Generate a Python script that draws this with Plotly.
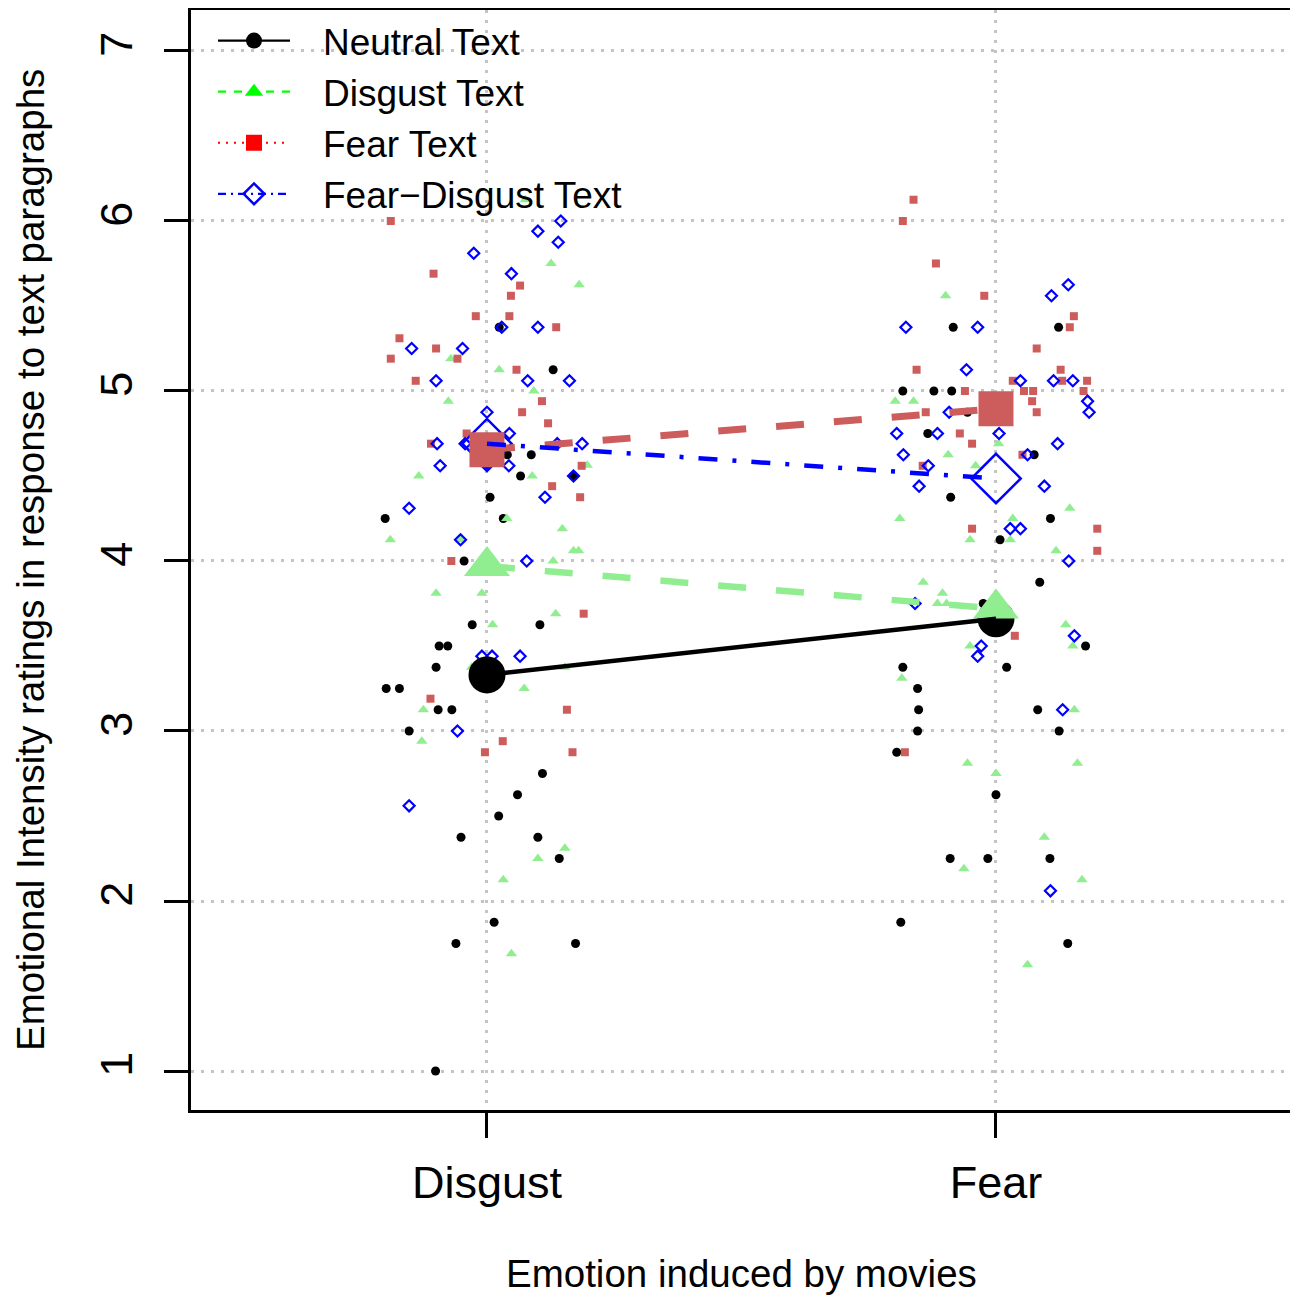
import plotly.graph_objects as go

FONT = "Liberation Sans, Arial, Helvetica, sans-serif"

# categories on the x axis (numeric positions 1 and 2)
conditions = ["Disgust", "Fear"]
cond_pos = [1, 2]

# ---- individual (jittered) ratings: jitter offsets and values ----
neutral_dis_jit = [0.024, 0.130, 0.040, 0.087, 0.066, 0.170, 0.006, -0.200, 0.032, -0.045,
                   -0.029, 0.104, -0.094, -0.077, -0.100, -0.198, -0.172, -0.096, -0.069, -0.153,
                   0.109, 0.060, 0.023, -0.051, 0.100, 0.142, 0.014, -0.061, 0.174, -0.101]
neutral_dis_y = [5.375, 5.125, 4.625, 4.625, 4.5, 4.5, 4.375, 4.25, 4.25, 4.0,
                 3.625, 3.625, 3.5, 3.5, 3.375, 3.25, 3.25, 3.125, 3.125, 3.0,
                 2.75, 2.625, 2.5, 2.375, 2.375, 2.25, 1.875, 1.75, 1.75, 1.0]
neutral_fear_jit = [-0.084, 0.123, -0.183, -0.122, -0.087, -0.056, -0.134, 0.075, -0.089, 0.107,
                    0.008, 0.086, -0.025, 0.176, -0.183, 0.021, -0.154, -0.152, 0.082, -0.154,
                    0.124, -0.195, 0.000, -0.090, -0.016, 0.106, -0.187, 0.141]
neutral_fear_y = [5.375, 5.375, 5.0, 5.0, 5.0, 4.875, 4.75, 4.625, 4.375, 4.25,
                  4.125, 3.875, 3.75, 3.5, 3.375, 3.375, 3.25, 3.125, 3.125, 3.0,
                  3.0, 2.875, 2.625, 2.25, 2.25, 2.25, 1.875, 1.75]

disgust_dis_jit = [0.075, 0.126, 0.181, -0.071, 0.024, 0.092, -0.076, -0.134, 0.089, 0.197,
                   0.039, -0.190, 0.148, -0.052, 0.170, 0.180, 0.130, -0.100, -0.010, 0.135,
                   0.011, -0.030, 0.153, 0.073, -0.125, -0.128, 0.153, 0.100, 0.032, 0.048]
disgust_dis_y = [6.125, 5.75, 5.625, 5.19, 5.125, 5.0, 4.94, 4.5, 4.5, 4.5625,
                 4.25, 4.125, 4.19, 4.125, 4.06, 4.06, 4.0, 3.81, 3.81, 3.69,
                 3.625, 3.375, 3.375, 3.25, 3.125, 2.94, 2.31, 2.25, 2.125, 1.69]
disgust_fear_jit = [-0.099, -0.198, -0.162, 0.005, -0.094, -0.040, 0.145, -0.189, 0.033, -0.051,
                    0.028, 0.118, -0.143, -0.105, -0.115, -0.097, 0.137, 0.151, -0.051, -0.185,
                    0.154, -0.056, 0.160, 0.000, 0.095, -0.063, 0.169, 0.062]
disgust_fear_y = [5.56, 4.94, 4.94, 4.69, 4.625, 4.56, 4.31, 4.25, 4.25, 4.125,
                  4.125, 4.06, 3.875, 3.81, 3.75, 3.75, 3.625, 3.5, 3.5, 3.31,
                  3.125, 2.81, 2.81, 2.75, 2.375, 2.19, 2.125, 1.625]

fear_dis_jit = [-0.189, -0.105, 0.065, 0.047, -0.022, 0.044, 0.136, -0.172, -0.100, -0.189,
                -0.058, 0.058, -0.140, 0.108, 0.069, 0.120, -0.040, -0.110, 0.186, 0.128,
                0.183, -0.070, 0.190, -0.111, 0.157, 0.031, -0.004, 0.168]
fear_dis_y = [6.0, 5.69, 5.62, 5.56, 5.44, 5.44, 5.375, 5.31, 5.25, 5.19,
              5.19, 5.125, 5.06, 4.94, 4.875, 4.81, 4.75, 4.69, 4.56, 4.44,
              4.375, 4.0, 3.69, 3.19, 3.125, 2.94, 2.875, 2.875]
fear_fear_jit = [-0.162, -0.183, -0.118, -0.023, 0.153, 0.145, 0.080, -0.156, 0.127, 0.033,
                 0.130, 0.179, -0.061, 0.055, 0.073, 0.172, 0.071, 0.080, -0.138, -0.071,
                 -0.047, 0.052, -0.144, -0.047, 0.199, 0.199, 0.037, -0.179]
fear_fear_y = [6.125, 6.0, 5.75, 5.56, 5.44, 5.375, 5.25, 5.125, 5.125, 5.06,
               5.06, 5.06, 5.0, 5.0, 5.0, 5.0, 4.94, 4.875, 4.875, 4.75,
               4.69, 4.625, 4.56, 4.19, 4.19, 4.06, 3.56, 2.875]

fd_dis_jit = [0.145, 0.100, 0.140, -0.026, 0.048, 0.029, 0.100, -0.148, -0.048, -0.100,
              0.080, 0.162, 0.000, 0.044, -0.098, -0.043, 0.187, -0.092, 0.043, 0.170,
              0.114, -0.153, -0.052, 0.078, -0.010, 0.010, 0.065, -0.058, -0.153, 0.138, 0.000]
fd_dis_y = [6.0, 5.94, 5.875, 5.81, 5.69, 5.375, 5.375, 5.25, 5.25, 5.06,
            5.06, 5.06, 4.875, 4.75, 4.69, 4.69, 4.69, 4.56, 4.56, 4.5,
            4.375, 4.31, 4.125, 4.0, 3.44, 3.44, 3.44, 3.0, 2.56, 4.69, 4.56]
fd_fear_jit = [0.142, 0.109, -0.177, -0.036, -0.058, 0.048, 0.113, 0.151, 0.180, 0.183,
               -0.092, -0.195, -0.115, 0.006, 0.121, -0.182, 0.062, -0.133, -0.151, 0.095,
               0.028, 0.048, 0.143, -0.159, 0.154, -0.029, -0.036, 0.131, 0.107]
fd_fear_y = [5.625, 5.56, 5.375, 5.375, 5.125, 5.06, 5.06, 5.06, 4.94, 4.875,
             4.875, 4.75, 4.75, 4.75, 4.69, 4.625, 4.625, 4.56, 4.44, 4.44,
             4.19, 4.19, 4.0, 3.75, 3.56, 3.5, 3.44, 3.125, 2.06]

# ---- condition means ----
neutral_means = [3.33, 3.66]
disgust_means = [3.97, 3.72]
fear_means = [4.655, 4.895]
fd_means = [4.69, 4.485]

# ---- axis ticks ----
y_ticks = [1, 2, 3, 4, 5, 6, 7]

series_names = ["Neutral Text", "Disgust Text", "Fear Text", "Fear\u2212Disgust Text"]


def jittered(pos, jit):
    return [pos + j for j in jit]


fig = go.Figure()

# individual points
pts = [
    ("neutral", neutral_dis_jit, neutral_dis_y, neutral_fear_jit, neutral_fear_y,
     dict(symbol="circle", size=9, color="black", line=dict(width=0))),
    ("disgust", disgust_dis_jit, disgust_dis_y, disgust_fear_jit, disgust_fear_y,
     dict(symbol="triangle-up", size=10, color="#90EE90", line=dict(width=0))),
    ("fear", fear_dis_jit, fear_dis_y, fear_fear_jit, fear_fear_y,
     dict(symbol="square", size=8, color="#CD5C5C", line=dict(width=0))),
    ("fd", fd_dis_jit, fd_dis_y, fd_fear_jit, fd_fear_y,
     dict(symbol="diamond-open", size=8.5, color="blue", line=dict(width=2.2, color="blue"))),
]
for name, dj, dy, fj, fy, mk in pts:
    fig.add_trace(go.Scatter(
        x=jittered(cond_pos[0], dj) + jittered(cond_pos[1], fj),
        y=dy + fy, mode="markers", marker=mk, showlegend=False, hoverinfo="skip"))

# big mean markers
fig.add_trace(go.Scatter(x=cond_pos, y=neutral_means, mode="markers", showlegend=False,
                         marker=dict(symbol="circle", size=37, color="black")))
fig.add_trace(go.Scatter(x=cond_pos, y=disgust_means, mode="markers", showlegend=False,
                         marker=dict(symbol="triangle-up", size=40, color="#90EE90")))
fig.add_trace(go.Scatter(x=cond_pos, y=fd_means, mode="markers", showlegend=False,
                         marker=dict(symbol="diamond-open", size=38, color="blue",
                                     line=dict(width=2.5, color="blue"))))
fig.add_trace(go.Scatter(x=cond_pos, y=fear_means, mode="markers", showlegend=False,
                         marker=dict(symbol="square", size=35, color="#CD5C5C")))

# mean lines
fig.add_trace(go.Scatter(x=cond_pos, y=neutral_means, mode="lines", showlegend=False,
                         line=dict(color="black", width=4.5)))
fig.add_trace(go.Scatter(x=cond_pos, y=disgust_means, mode="lines", showlegend=False,
                         line=dict(color="#90EE90", width=6.5, dash="28px,30px")))
fig.add_trace(go.Scatter(x=cond_pos, y=fear_means, mode="lines", showlegend=False,
                         line=dict(color="#CD5C5C", width=7, dash="28px,30px")))
fig.add_trace(go.Scatter(x=cond_pos, y=fd_means, mode="lines", showlegend=False,
                         line=dict(color="blue", width=4.5, dash="19px,15px,4px,15px")))

# legend entries
leg_styles = [
    (dict(color="black", width=2.2), dict(symbol="circle", size=16, color="black")),
    (dict(color="#00FF00", width=2.2, dash="8px,8px"), dict(symbol="triangle-up", size=16, color="#00FF00")),
    (dict(color="#FF0000", width=2.2, dash="2px,6px"), dict(symbol="square", size=16, color="#FF0000")),
    (dict(color="blue", width=2.2, dash="8px,5px,2px,5px"),
     dict(symbol="diamond-open", size=16, color="blue", line=dict(width=2.5, color="blue"))),
]
for nm, (ln, mk) in zip(series_names, leg_styles):
    fig.add_trace(go.Scatter(x=[None], y=[None], mode="lines+markers",
                             name="\u00a0\u00a0\u2009" + nm, line=ln, marker=mk))

grid = dict(showgrid=True, gridcolor="#C4C4C4", gridwidth=2.5, griddash="2.5px,7.5px")

# page body adds an 8px offset, so the figure is sized to the viewport minus it
fig.update_layout(
    width=1290, height=1289,
    margin=dict(l=183, r=7, t=2, b=187, autoexpand=False),
    paper_bgcolor="white", plot_bgcolor="white",
    font=dict(family=FONT, color="black"),
    showlegend=True,
    legend=dict(x=0.020, y=1.0, xanchor="left", yanchor="top",
                bgcolor="rgba(0,0,0,0)", font=dict(size=37, family=FONT),
                itemwidth=72, tracegroupgap=0),
    xaxis=dict(range=[0.4185, 2.5796], tickvals=cond_pos, ticktext=conditions,
               tickfont=dict(size=45), ticks="outside", ticklen=25, tickwidth=2.5,
               tickcolor="black", showline=True, linecolor="black", linewidth=2.5,
               mirror=True, zeroline=False, ticklabelstandoff=6, **grid),
    yaxis=dict(range=[0.7706, 7.241], tickvals=y_ticks, tickangle=-90,
               tickfont=dict(size=45), ticks="outside", ticklen=24, tickwidth=2.5,
               tickcolor="black", showline=True, linecolor="black", linewidth=2.5,
               mirror=True, zeroline=False, ticklabelstandoff=14, **grid),
    annotations=[
        dict(text="Emotion induced by movies", xref="paper", yref="paper",
             x=(741 - 191) / 1100, y=(1110 - 1273) / 1100, xanchor="center", yanchor="middle",
             showarrow=False, font=dict(size=38.5, family=FONT)),
        dict(text="Emotional Intensity ratings in response to text paragraphs",
             xref="paper", yref="paper", x=(30 - 191) / 1100, y=(1110 - 560) / 1100,
             xanchor="center", yanchor="middle", textangle=-90,
             showarrow=False, font=dict(size=38.5, family=FONT)),
    ],
)

fig.write_html("out.html")
